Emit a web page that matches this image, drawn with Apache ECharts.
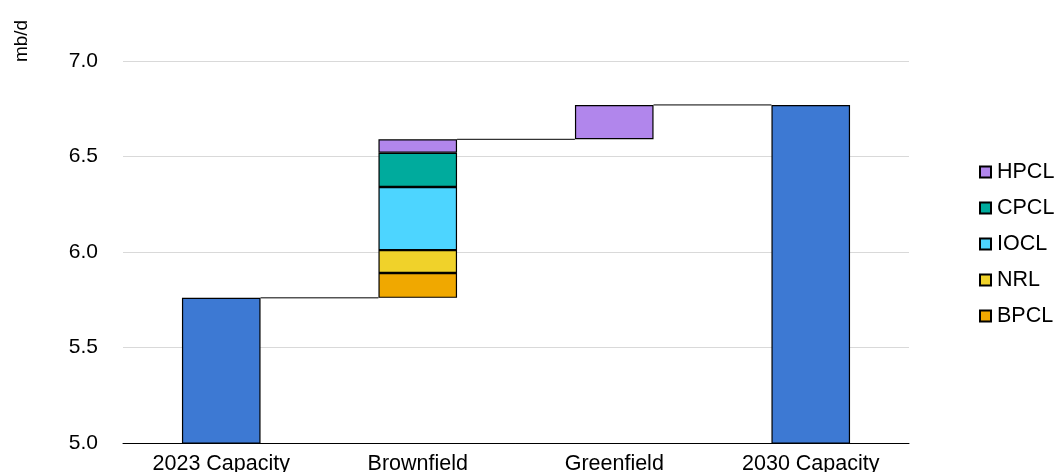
<!DOCTYPE html>
<html>
<head>
<meta charset="utf-8">
<script src="https://cdn.jsdelivr.net/npm/echarts@6/dist/echarts.min.js"></script>
<style>html,body{margin:0;padding:0;background:#fff;}#c{width:1054px;height:472px;}</style>
</head>
<body>
<div id="c"></div>
<script>
const categories = ['2023 Capacity', 'Brownfield', 'Greenfield', '2030 Capacity'];
const baseVals = [0, 5.76, 6.59, 0];
const capacity = [5.76, null, null, 6.77];
const bpcl = [null, 0.13, null, null];
const nrl = [null, 0.12, null, null];
const iocl = [null, 0.33, null, null];
const cpcl = [null, 0.18, null, null];
const hpcl = [null, 0.07, 0.18, null];
const connectors = [[0, 5.76], [1, 6.59], [2, 6.77]];
const yTicks = { min: 5.0, max: 7.0, interval: 0.5 };

const colors = { cap: '#3D79D3', BPCL: '#F0A800', NRL: '#F0D22A', IOCL: '#4DD5FF', CPCL: '#00AB9D', HPCL: '#B186EC' };
const barW = '40%';
const border = { borderColor: '#000', borderWidth: 1.2 };
const FONT = 'Liberation Sans, Arial';

function seg(name, data, color) {
  return { name, type: 'bar', stack: 'w', data, barWidth: barW,
    itemStyle: Object.assign({ color }, border), emphasis: { disabled: true } };
}

const chart = echarts.init(document.getElementById('c'));
chart.setOption({
  animation: false,
  grid: { left: 123, right: 145, top: 61, bottom: 29, containLabel: false, outerBoundsMode: 'none' },
  legend: {
    orient: 'vertical', left: 979, top: 161, itemGap: 14,
    itemWidth: 11, itemHeight: 11, padding: 0,
    data: ['HPCL', 'CPCL', 'IOCL', 'NRL', 'BPCL'],
    textStyle: { fontFamily: FONT, fontSize: 21.5, color: '#000', padding: [0, 0, 0, 1] },
    icon: 'rect'
  },
  graphic: [{
    type: 'text', x: 22, y: 41, rotation: Math.PI / 2,
    style: { text: 'mb/d', fontFamily: FONT, fontSize: 19, fill: '#000', align: 'center', verticalAlign: 'middle' }
  }],
  xAxis: {
    type: 'category', data: categories,
    axisLine: { lineStyle: { color: '#000', width: 1 } },
    axisTick: { show: false },
    axisLabel: { fontFamily: FONT, fontSize: 21.5, color: '#000', margin: 10 }
  },
  yAxis: {
    type: 'value', min: yTicks.min, max: yTicks.max, interval: yTicks.interval,
    axisLine: { show: false }, axisTick: { show: false },
    axisLabel: { fontFamily: FONT, fontSize: 21, color: '#000', margin: 25,
      formatter: v => v.toFixed(1) },
    splitLine: { lineStyle: { color: '#d9d9d9', width: 1 } }
  },
  series: [
    { name: 'base', type: 'bar', stack: 'w', data: baseVals, barWidth: barW,
      itemStyle: { color: 'transparent' }, silent: true },
    seg('Capacity', capacity, colors.cap),
    seg('BPCL', bpcl, colors.BPCL),
    seg('NRL', nrl, colors.NRL),
    seg('IOCL', iocl, colors.IOCL),
    seg('CPCL', cpcl, colors.CPCL),
    seg('HPCL', hpcl, colors.HPCL),
    {
      name: 'conn', type: 'custom', data: connectors, z: 1, silent: true,
      renderItem: function (params, api) {
        const i = api.value(0), v = api.value(1);
        const p0 = api.coord([i, v]);
        const p1 = api.coord([i + 1, v]);
        const bw = api.size([1, 0])[0] * 0.4;
        return { type: 'line', shape: { x1: p0[0] + bw / 2, y1: p0[1], x2: p1[0] - bw / 2, y2: p1[1] },
          style: { stroke: '#000', lineWidth: 1 } };
      }
    }
  ]
});
</script>
</body>
</html>
